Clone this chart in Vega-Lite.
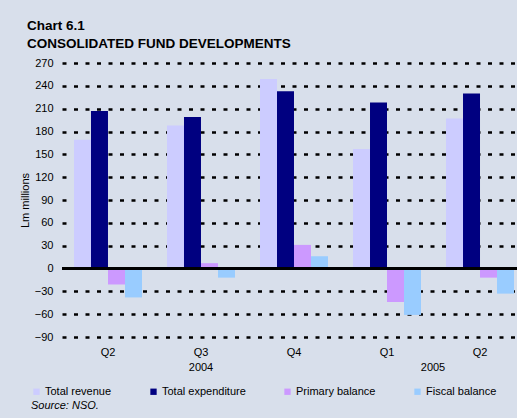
{
  "$schema": "https://vega.github.io/schema/vega-lite/v6.json",
  "autosize": "none",
  "width": 455,
  "height": 274,
  "padding": {"left": 62, "top": 63, "right": 0, "bottom": 81},
  "background": "#d8dfeb",
  "config": {
    "font": "Liberation Sans",
    "view": {"stroke": null},
    "axis": {"labelFont": "Liberation Sans", "titleFont": "Liberation Sans", "labelColor": "#000", "titleColor": "#000"},
    "axisY": {"labelOverlap": false, "labelSeparation": 0, "labelBound": false}
  },
  "title": {
    "text": ["Chart 6.1", "CONSOLIDATED FUND DEVELOPMENTS"],
    "anchor": "start",
    "frame": "group",
    "dx": -35,
    "offset": 7,
    "fontSize": 13.5,
    "fontWeight": "bold",
    "lineHeight": 18,
    "color": "#000",
    "font": "Liberation Sans"
  },
  "datasets": {
    "main": [
      {"quarter": "Q2 2004", "series": "Total revenue", "value": 169},
      {"quarter": "Q2 2004", "series": "Total expenditure", "value": 207},
      {"quarter": "Q2 2004", "series": "Primary balance", "value": -21},
      {"quarter": "Q2 2004", "series": "Fiscal balance", "value": -38},
      {"quarter": "Q3 2004", "series": "Total revenue", "value": 188},
      {"quarter": "Q3 2004", "series": "Total expenditure", "value": 199},
      {"quarter": "Q3 2004", "series": "Primary balance", "value": 7},
      {"quarter": "Q3 2004", "series": "Fiscal balance", "value": -12},
      {"quarter": "Q4 2004", "series": "Total revenue", "value": 249},
      {"quarter": "Q4 2004", "series": "Total expenditure", "value": 233},
      {"quarter": "Q4 2004", "series": "Primary balance", "value": 31},
      {"quarter": "Q4 2004", "series": "Fiscal balance", "value": 16},
      {"quarter": "Q1 2005", "series": "Total revenue", "value": 157},
      {"quarter": "Q1 2005", "series": "Total expenditure", "value": 218},
      {"quarter": "Q1 2005", "series": "Primary balance", "value": -44},
      {"quarter": "Q1 2005", "series": "Fiscal balance", "value": -61},
      {"quarter": "Q2 2005", "series": "Total revenue", "value": 197},
      {"quarter": "Q2 2005", "series": "Total expenditure", "value": 230},
      {"quarter": "Q2 2005", "series": "Primary balance", "value": -12},
      {"quarter": "Q2 2005", "series": "Fiscal balance", "value": -33}
    ],
    "years": [
      {"quarter": "Q3 2004", "year": "2004"},
      {"quarter": "Q1 2005", "year": "2005"}
    ]
  },
  "data": {"name": "main"},
  "layer": [
    {
      "mark": {"type": "bar", "clip": false},
      "encoding": {
        "x": {
          "field": "quarter",
          "type": "nominal",
          "sort": null,
          "scale": {"domain": ["Q2 2004", "Q3 2004", "Q4 2004", "Q1 2005", "Q2 2005"], "paddingInner": 0.269, "paddingOuter": 0.0806, "align": 0.8},
          "axis": {
            "title": null,
            "domain": false,
            "ticks": false,
            "labelAngle": 0,
            "labelFontSize": 11,
            "labelPadding": 9,
            "labelExpr": "split(datum.label, ' ')[0]"
          }
        },
        "xOffset": {
          "field": "series",
          "type": "nominal",
          "sort": ["Total revenue", "Total expenditure", "Primary balance", "Fiscal balance"],
          "scale": {"paddingInner": 0, "paddingOuter": 0}
        },
        "y": {
          "field": "value",
          "type": "quantitative",
          "scale": {"domain": [-90, 270], "nice": false},
          "axis": {
            "title": "Lm millions",
            "titleFontSize": 11,
            "titleFontWeight": "normal",
            "titlePadding": 4,
            "values": [-90, -60, -30, 0, 30, 60, 90, 120, 150, 180, 210, 240, 270],
            "tickCount": 13,
            "labelOverlap": false,
            "domain": false,
            "ticks": false,
            "labelFontSize": 11,
            "labelPadding": 9,
            "grid": true,
            "gridColor": "#000",
            "gridWidth": 2.5,
            "gridDash": [4, 7.5],
            "gridOpacity": {"condition": {"test": "datum.value === 0", "value": 0}, "value": 1}
          }
        },
        "color": {
          "field": "series",
          "type": "nominal",
          "sort": ["Total revenue", "Total expenditure", "Primary balance", "Fiscal balance"],
          "scale": {
            "domain": ["Total revenue", "Total expenditure", "Primary balance", "Fiscal balance"],
            "range": ["#ccccff", "#000080", "#cc99ff", "#99ccff"]
          },
          "legend": {
            "orient": "none",
            "direction": "horizontal",
            "legendX": -31,
            "legendY": 323,
            "padding": 0,
            "symbolType": "square",
            "symbolSize": 40,
            "symbolStrokeWidth": 0,
            "symbolOpacity": 1,
            "labelFontSize": 11,
            "labelFont": "Liberation Sans",
            "labelColor": "#000",
            "labelOffset": 3,
            "columnPadding": 36,
            "title": "Source: NSO.",
            "titleOrient": "bottom",
            "titleFontStyle": "italic",
            "titleFontWeight": "normal",
            "titleFontSize": 11,
            "titleFont": "Liberation Sans",
            "titleColor": "#000",
            "titlePadding": 3
          }
        }
      }
    },
    {
      "mark": {"type": "rule", "color": "#000", "strokeWidth": 2},
      "encoding": {"y": {"datum": 0}}
    },
    {
      "data": {"name": "years"},
      "transform": [{"filter": "datum.year == '2004'"}],
      "mark": {"type": "text", "fontSize": 11, "font": "Liberation Sans", "color": "#000", "dy": 31},
      "encoding": {
        "x": {"field": "quarter", "type": "nominal", "sort": null},
        "y": {"datum": -90},
        "text": {"field": "year"}
      }
    },
    {
      "data": {"name": "years"},
      "transform": [{"filter": "datum.year == '2005'"}],
      "mark": {"type": "text", "fontSize": 11, "font": "Liberation Sans", "color": "#000", "dy": 31, "dx": 46},
      "encoding": {
        "x": {"field": "quarter", "type": "nominal", "sort": null},
        "y": {"datum": -90},
        "text": {"field": "year"}
      }
    }
  ]
}
